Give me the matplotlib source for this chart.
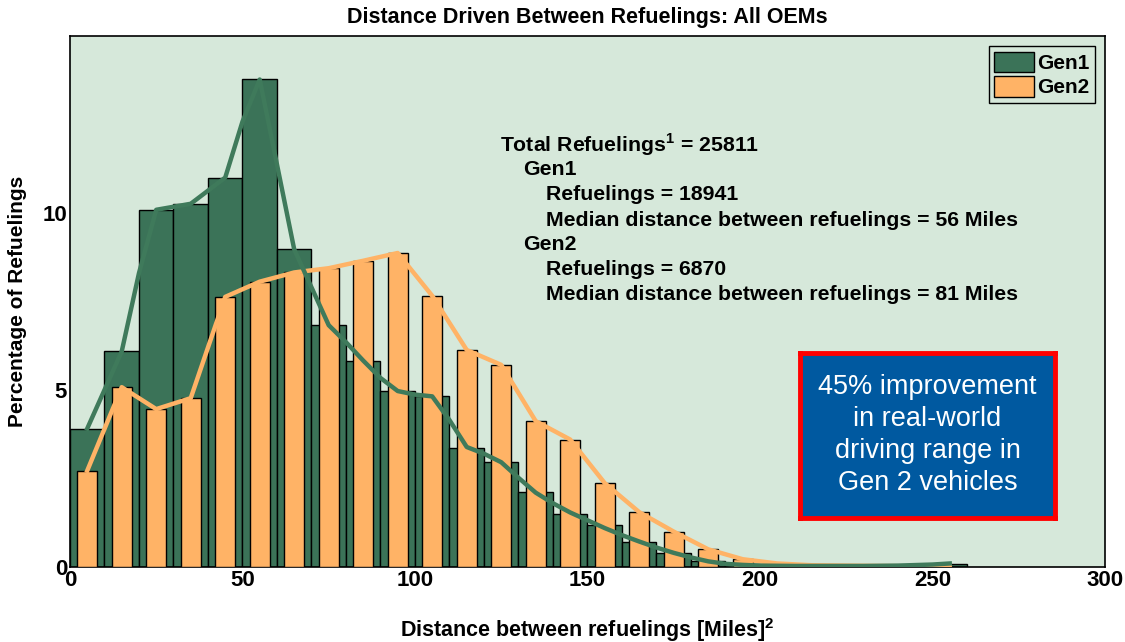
import matplotlib.pyplot as plt
import matplotlib.patches as mpatches
import numpy as np

# Gen1 histogram: 10-mile bins, left edges 0..250
gen1_edges = np.arange(0, 260, 10)
gen1_pct = [3.91, 6.09, 10.09, 10.26, 11.0, 13.77, 8.97, 6.83, 5.83, 4.97,
            4.82, 3.37, 2.97, 2.11, 1.51, 1.2, 0.71, 0.39, 0.18, 0.09,
            0.05, 0.04, 0.03, 0.03, 0.03, 0.08]

# Gen2 histogram: bar centres 5..255
gen2_centers = np.arange(5, 260, 10)
gen2_pct = [2.72, 5.08, 4.46, 4.77, 7.63, 8.06, 8.32, 8.44, 8.65, 8.87,
            7.66, 6.13, 5.71, 4.12, 3.6, 2.37, 1.55, 1.0, 0.5, 0.22,
            0.1, 0.05, 0.04, 0.03, 0.02, 0.01]

# Gen1 trend line
gen1_line_x = [5, 15, 20, 25, 35, 45, 50, 55, 65, 75, 80, 85, 90, 95, 100,
               105, 110, 115, 120, 125, 130, 135, 140, 145, 150, 155, 160,
               165, 170, 175, 180, 185, 190, 195, 200, 210, 220, 230, 240,
               250, 255]
gen1_line_y = [3.91, 6.09, 8.3, 10.09, 10.26, 11.0, 12.58, 13.77, 8.97, 6.83,
               6.35, 5.83, 5.34, 4.97, 4.87, 4.82, 4.15, 3.39, 3.2, 2.96,
               2.52, 2.1, 1.8, 1.54, 1.32, 1.1, 0.9, 0.72, 0.55, 0.4, 0.27,
               0.16, 0.09, 0.06, 0.04, 0.03, 0.03, 0.03, 0.04, 0.07, 0.1]

stats_lines = [
    (0, r"Total Refuelings$^\mathbf{1}$ = 25811"),
    (1, "Gen1"),
    (2, "Refuelings = 18941"),
    (2, "Median distance between refuelings = 56 Miles"),
    (1, "Gen2"),
    (2, "Refuelings = 6870"),
    (2, "Median distance between refuelings = 81 Miles"),
]

green = "#3b7358"
orange = "#ffb366"
bg = "#d6e8da"

plt.rcParams['font.family'] = ['Liberation Sans', 'DejaVu Sans']
plt.rcParams['mathtext.fontset'] = 'custom'
plt.rcParams['mathtext.rm'] = 'Liberation Sans'
plt.rcParams['mathtext.bf'] = 'Liberation Sans:bold'

fig = plt.figure(figsize=(11.25, 6.42), dpi=100)
ax = fig.add_axes([0.0622, 0.1168, 0.92, 0.8272])
ax.set_facecolor(bg)

ax.bar(gen1_edges, gen1_pct, width=10, align='edge', color=green,
       edgecolor='black', linewidth=1, zorder=2)
ax.bar(gen2_centers, gen2_pct, width=5.9, color=orange,
       edgecolor='black', linewidth=1, zorder=3)
ax.plot(gen2_centers, gen2_pct, color=orange, lw=3.2, zorder=4)
ax.plot(gen1_line_x, gen1_line_y, color="#3f7a5b", lw=3.2, zorder=5)

ax.set_xlim(0, 300)
ax.set_ylim(0, 15)
ax.set_xticks([0, 50, 100, 150, 200, 250, 300])
ax.set_yticks([0, 5, 10])
ax.tick_params(length=0, labelsize=16, pad=2)
for lab in ax.get_xticklabels() + ax.get_yticklabels():
    lab.set_fontweight('bold')
for s in ax.spines.values():
    s.set_linewidth(1.2)

ax.set_title("Distance Driven Between Refuelings: All OEMs",
             fontsize=15.5, fontweight='bold', pad=9)
ax.set_xlabel(r"Distance between refuelings [Miles]$^\mathbf{2}$",
              fontsize=15.5, fontweight='bold', labelpad=18)
ax.set_ylabel("Percentage of Refuelings", fontsize=15,
              fontweight='bold', labelpad=11)

handles = [mpatches.Patch(facecolor=green, edgecolor='black', label='Gen1'),
           mpatches.Patch(facecolor=orange, edgecolor='black', label='Gen2')]
leg = ax.legend(handles=handles, loc='upper right', fancybox=False,
                framealpha=1, facecolor=bg, edgecolor='black',
                prop={'weight': 'bold', 'size': 15},
                handlelength=1.9, handleheight=1.15, handletextpad=0.15,
                labelspacing=0.15, borderpad=0.25, borderaxespad=0.5)
leg.get_frame().set_linewidth(1)

# stats annotation, one line at a time
for i, (lvl, txt) in enumerate(stats_lines):
    fig.text((500 + 23 * lvl) / 1125, 1 - (145 + 25 * i) / 642, txt,
             fontsize=15.3, fontweight='bold', va='center', ha='left')

# highlight box
box_ax = fig.add_axes([800 / 1125, 1 - 518 / 642, 255 / 1125, 165 / 642])
box_ax.set_xticks([])
box_ax.set_yticks([])
box_ax.set_facecolor("#0059a0")
for s in box_ax.spines.values():
    s.set_color('#ff0000')
    s.set_linewidth(3.5)
box_ax.text(0.5, 0.5, "45% improvement\nin real-world\ndriving range in\nGen 2 vehicles",
            color='white', fontsize=19.5, ha='center', va='center',
            linespacing=1.3, transform=box_ax.transAxes)

fig.savefig("out.png", dpi=100)
